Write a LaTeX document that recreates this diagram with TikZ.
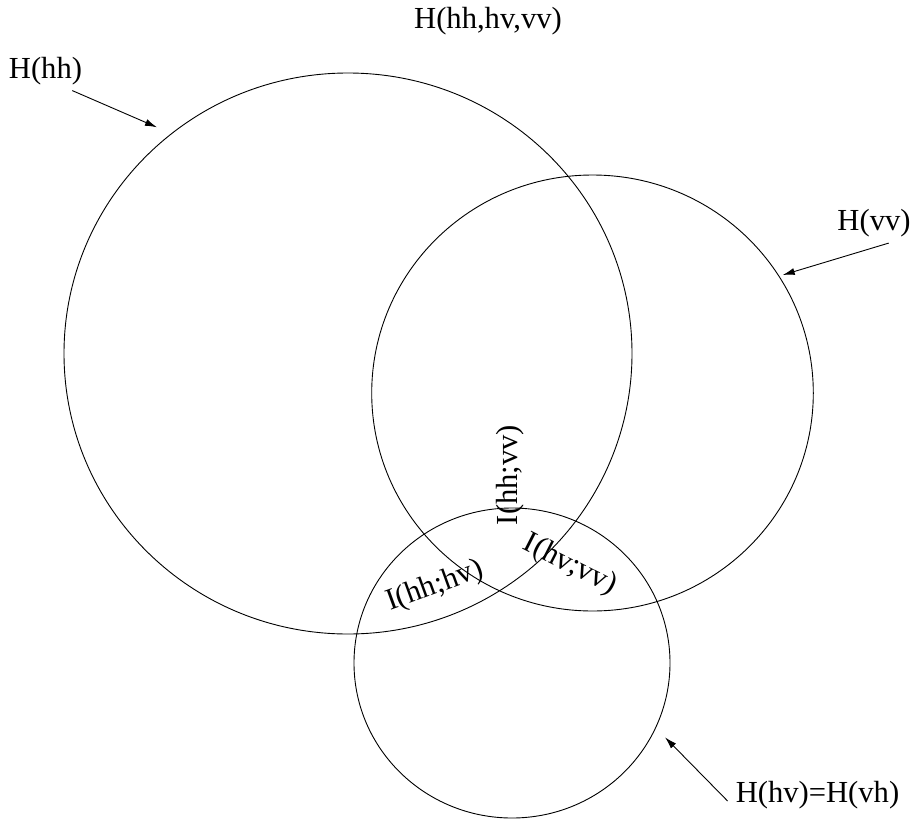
\documentclass[tikz,border=0pt]{standalone}
\usepackage{fontspec}
\setmainfont{Liberation Serif}
\usetikzlibrary{shapes.geometric,arrows.meta}

\tikzset{
  set/.style={draw, ellipse, inner sep=0pt, outer sep=0pt, line width=0.9pt},
  lbl/.style={inner sep=0pt, font=\fontsize{30.6pt}{36pt}\selectfont},
  pointer/.style={line width=0.9pt, -{Latex[length=12pt,width=7pt]}}
}

\begin{document}
\begin{tikzpicture}[x=1pt, y=-1pt]
  \useasboundingbox (0,0) rectangle (913,822);

  % the three entropy sets
  \node[set, minimum width=568pt, minimum height=561pt] (hh) at (348,353.5) {};
  \node[set, minimum width=441.6pt, minimum height=436pt] (vv) at (592.5,393) {};
  \node[set, minimum width=316pt, minimum height=310pt] (hv) at (512,663) {};

  % headings and set names
  \node[lbl] (joint) at (488,21) {H(hh,hv,vv)};
  \node[lbl] (lhh) at (45.5,71.5) {H(hh)};
  \node[lbl] (lvv) at (874,223) {H(vv)};
  \node[lbl] (lhv) at (817.5,795) {H(hv)=H(vh)};

  % mutual information labels in the overlaps
  \node[lbl, rotate=90] (ihhvv) at (510,475) {I(hh;vv)};
  \node[lbl, rotate=20] (ihhhv) at (435,586.5) {I(hh;hv)};
  \node[lbl, rotate=-27] (ihvvv) at (570,565) {I(hv;vv)};

  % pointer ends next to the circles
  \coordinate (thh) at (157,127.3);
  \coordinate (tvv) at (782.7,275);
  \coordinate (thv) at (665,737.3);

  \draw[pointer] ([shift={(-10pt,-5pt)}]lhh.south east) -- (thh);
  \draw[pointer] ([shift={(-22pt,-6pt)}]lvv.south east) -- (tvv);
  \draw[pointer] ([shift={(-8pt,-6pt)}]lhv.west) -- (thv);
\end{tikzpicture}
\end{document}
